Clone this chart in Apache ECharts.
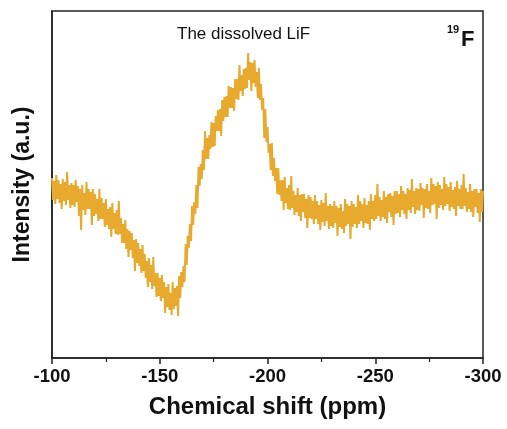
<!DOCTYPE html>
<html>
<head>
<meta charset="utf-8">
<script src="https://cdn.jsdelivr.net/npm/echarts@6/dist/echarts.min.js"></script>
<style>
html,body{margin:0;padding:0;background:#fff;}
#chart{width:507px;height:429px;}
</style>
</head>
<body>
<div id="chart"></div>
<script>
// Chemical shift axis (ppm): first point and spacing of the recorded spectrum
const shiftStart = -100;
const shiftStep = -0.5;
// Intensity (a.u.), one value per 0.5 ppm from -100 to -300
const intensity = [
  180,158,177,154,183,159,178,155,174,149,179,157,176,153,186,158,173,150,175,153,
  173,151,178,156,172,142,169,128,173,148,165,143,176,149,169,149,166,133,169,142,
  164,144,159,137,169,139,160,139,155,131,159,133,149,129,151,121,155,129,145,124,
  148,123,157,124,140,115,134,115,138,109,129,101,127,108,125,100,118,87,119,95,
  115,92,109,85,113,87,104,80,97,71,100,76,93,69,101,72,85,61,85,62,
  80,57,83,60,76,45,71,51,74,48,65,43,76,49,70,52,72,42,82,60,
  86,71,92,76,114,93,122,110,134,117,152,133,156,144,173,150,191,172,194,179,
  208,188,227,199,220,199,223,209,236,211,235,212,242,227,248,227,249,222,258,237,
  261,241,262,241,272,250,271,250,270,247,279,259,279,258,293,267,283,262,289,269,
  290,270,305,278,296,267,295,275,298,271,286,260,290,258,274,248,260,220,249,216,
  231,205,214,188,215,182,200,177,190,164,190,163,178,157,178,148,181,155,170,149,
  173,148,182,150,167,143,163,146,170,142,163,137,164,146,164,140,159,130,163,140,
  161,139,157,134,163,139,157,134,153,128,158,136,155,132,165,137,152,129,154,132,
  152,130,157,135,152,122,150,131,154,129,147,125,159,132,154,134,152,119,157,131,
  154,134,151,130,163,134,157,137,154,130,160,135,153,134,157,128,164,139,157,137,
  163,139,174,142,161,137,158,141,167,139,161,135,164,146,165,141,162,133,167,144,
  167,145,164,141,172,148,167,144,164,139,170,148,168,145,179,151,167,144,170,148,
  169,147,175,153,170,140,169,150,174,149,167,145,180,153,174,154,172,139,176,150,
  173,153,169,148,181,152,174,154,171,147,176,151,168,149,171,142,177,152,169,149,
  173,149,184,152,170,146,166,149,174,146,167,141,169,151,169,145,165,136,169,146,
  167
];
const xTicks = [-100, -150, -200, -250, -300];

const seriesData = intensity.map((v, i) => [shiftStart + i * shiftStep, v]);

const chart = echarts.init(document.getElementById('chart'), null, {renderer: 'canvas'});
const FONT = 'Liberation Sans, Arial, Helvetica, sans-serif';
chart.setOption({
  animation: false,
  backgroundColor: '#fff',
  grid: {left: 52, right: 24, top: 11, bottom: 71, show: true, borderColor: '#222', borderWidth: 1.5, backgroundColor: 'transparent'},
  xAxis: {
    type: 'value', min: -300, max: -100, interval: 50, inverse: true,
    axisLine: {lineStyle: {color: '#222', width: 1.5}},
    axisTick: {show: true, inside: false, length: 6, lineStyle: {color: '#222', width: 1.5}},
    minorTick: {show: true, splitNumber: 2, length: 4, lineStyle: {color: '#222', width: 1.2}},
    splitLine: {show: false},
    axisLabel: {fontFamily: FONT, fontSize: 18.5, fontWeight: 'bold', color: '#111', margin: 9,
      formatter: v => xTicks.includes(v) ? String(v) : ''},
    name: 'Chemical shift (ppm)', nameLocation: 'middle', nameGap: 37,
    nameTextStyle: {fontFamily: FONT, fontSize: 24, fontWeight: 'bold', color: '#111'}
  },
  yAxis: {
    type: 'value', min: 0, max: 347,
    axisLine: {show: true, lineStyle: {color: '#222', width: 1.5}},
    axisTick: {show: false}, axisLabel: {show: false}, splitLine: {show: false},
    name: 'Intensity (a.u.)', nameLocation: 'middle', nameGap: 18,
    nameTextStyle: {fontFamily: FONT, fontSize: 23, fontWeight: 'bold', color: '#111'}
  },
  series: [{
    type: 'line', data: seriesData, showSymbol: false, symbol: 'none',
    lineStyle: {color: '#E7AA2E', width: 2.0}, itemStyle: {color: '#E7AA2E'}
  }],
  graphic: [
    {type: 'text', left: 177, top: 26, style: {text: 'The dissolved LiF', fontFamily: FONT, fontSize: 17, fill: '#111'}},
    {type: 'text', left: 447, top: 24, style: {text: '19', fontFamily: FONT, fontSize: 11, fontWeight: 'bold', fill: '#111'}},
    {type: 'text', left: 461, top: 29, style: {text: 'F', fontFamily: FONT, fontSize: 22, fontWeight: 'bold', fill: '#111'}}
  ]
});
</script>
</body>
</html>
